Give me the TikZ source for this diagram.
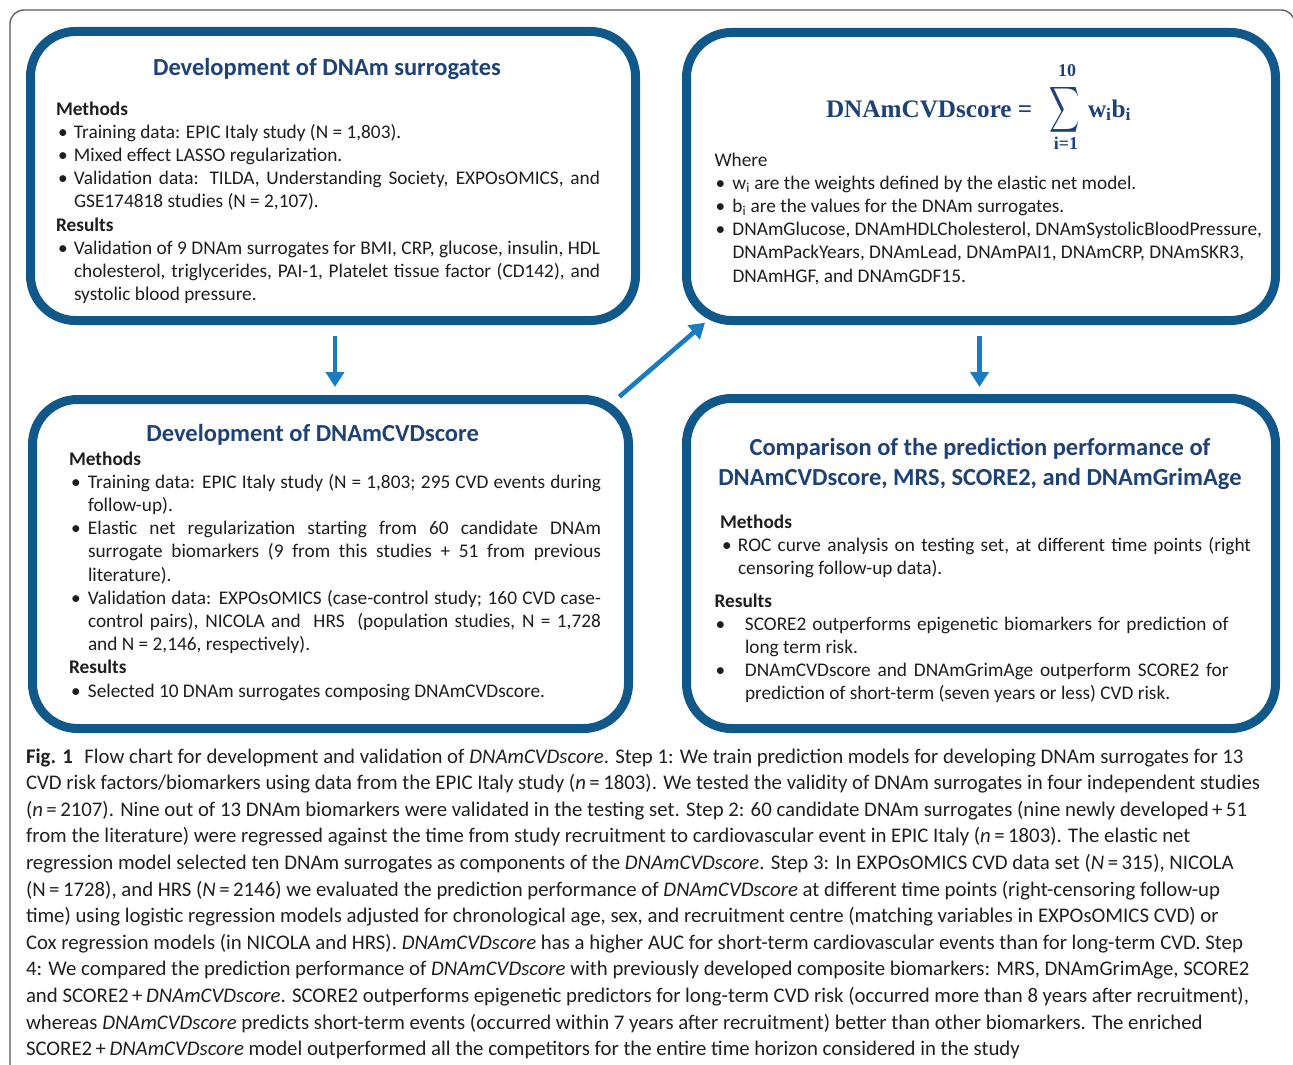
\documentclass[tikz,border=0pt]{standalone}
\usepackage{fontspec}
\setmainfont{Carlito}
\newfontfamily\eqfont{Liberation Serif}
\usepackage{graphicx}
\usetikzlibrary{arrows.meta}
\definecolor{boxblue}{RGB}{16,88,138}
\definecolor{arrblue}{RGB}{26,124,192}
\definecolor{navy}{RGB}{31,66,118}
\definecolor{bodytext}{RGB}{30,30,30}
\definecolor{captext}{RGB}{35,31,32}
\definecolor{framegray}{RGB}{90,90,90}
\newcommand{\bitem}[2]{\par\hangindent=#1\relax\hangafter=1\relax\noindent\makebox[#1][l]{\hspace{#2}\textbullet}\ignorespaces}
\newcommand{\hdr}[1]{\par\noindent\textbf{#1}}
\tolerance=9999
\hbadness=10000
\tikzset{
  panel/.style={draw=boxblue, line width=9pt, rounded corners=45pt, inner sep=0pt, outer sep=0pt},
  body/.style={anchor=base west, inner sep=0pt, outer sep=0pt, text width=#1, align=justify, text=bodytext,
    font=\fontsize{19.3}{23.2}\selectfont},
  ttl/.style={anchor=base, inner sep=0pt, outer sep=0pt, text=navy, font=\fontsize{24.5}{30}\selectfont\bfseries},
  eq/.style={inner sep=0pt, outer sep=0pt, text=navy},
  arr/.style={draw=arrblue, line width=4.6pt, -{Triangle[width=18pt,length=15pt]}},
  captxt/.style={anchor=base west, inner sep=0pt, outer sep=0pt, text=captext, font=\fontsize{20.8}{26}\selectfont},
}
\begin{document}
\begin{tikzpicture}[x=1pt,y=-1pt]
\useasboundingbox (0,0) rectangle (1293,1065);
\fill[white] (0,0) rectangle (1293,1065);
% outer frame
\draw[framegray, line width=1.3pt, rounded corners=14pt] (10,1070) -- (10,10) -- (1295,10) -- (1295,1070);

% panels
\node[panel, minimum width=605pt, minimum height=289pt] (b1) at (333,176) {};
\node[panel, minimum width=589pt, minimum height=288pt] (b2) at (981,176.5) {};
\node[panel, minimum width=596pt, minimum height=329pt] (b3) at (330.5,564) {};
\node[panel, minimum width=589pt, minimum height=330pt] (b4) at (981,563.5) {};

% box 1
\node[ttl] (t1) at (327,75) {Development of DNAm surrogates};
\node[body=544pt] (m1) at (56,115) {%
\noindent\textbf{Methods}
\bitem{18pt}{2pt}Training data: EPIC Italy study (N = 1,803).
\bitem{18pt}{2pt}Mixed effect LASSO regularization.
\bitem{18pt}{2pt}Validation data: TILDA, Understanding Society, EXPOsOMICS, and\linebreak GSE174818 studies (N = 2,107).
\hdr{Results}
\bitem{18pt}{2pt}Validation of 9 DNAm surrogates for BMI, CRP, glucose, insulin, HDL\linebreak cholesterol, triglycerides, PAI-1, Platelet tissue factor (CD142), and\linebreak systolic blood pressure.\par};

% box 2 equation
\node[eq, anchor=base west, font=\fontsize{25.2}{30}\selectfont\eqfont\bfseries] (eqa) at (826,117) {DNAmCVDscore =};
\node[eq, anchor=center] (eqs) at (1065,109.5) {\scalebox{2.1}[3.2]{$\displaystyle\sum$}};
\node[eq, anchor=center, font=\fontsize{18}{20}\selectfont\eqfont\bfseries] (eqt) at (1067,71) {10};
\node[eq, anchor=center, font=\fontsize{18}{20}\selectfont\eqfont\bfseries] (eqb) at (1066,143) {i=1};
\node[eq, anchor=base west, font=\fontsize{25.2}{30}\selectfont\eqfont\bfseries] (eqw) at (1088,117) {w\textsubscript{i}b\textsubscript{i}};
\node[body=600pt] (m2) at (714.5,166) {%
\noindent Where
\bitem{18pt}{1pt}w\textsubscript{i} are the weights defined by the elastic net model.
\bitem{18pt}{1pt}b\textsubscript{i} are the values for the DNAm surrogates.
\bitem{18pt}{1pt}DNAmGlucose, DNAmHDLCholesterol, DNAmSystolicBloodPressure,\newline DNAmPackYears, DNAmLead, DNAmPAI1, DNAmCRP, DNAmSKR3,\newline DNAmHGF, and DNAmGDF15.\par};

% box 3
\node[ttl] (t3) at (312.7,441) {Development of DNAmCVDscore};
\node[body=532pt] (m3) at (69,465) {%
\noindent\textbf{Methods}
\bitem{19pt}{2pt}Training data: EPIC Italy study (N = 1,803; 295 CVD events during\linebreak follow-up).
\bitem{19pt}{2pt}Elastic net regularization starting from 60 candidate DNAm\linebreak surrogate biomarkers (9 from this studies + 51 from previous\linebreak literature).
\bitem{19pt}{2pt}Validation data: EXPOsOMICS (case-control study; 160 CVD case-\linebreak control pairs), NICOLA and\ \ HRS\ \ (population studies, N = 1,728\linebreak and N = 2,146, respectively).
\hdr{Results}
\bitem{19pt}{2pt}Selected 10 DNAm surrogates composing DNAmCVDscore.\par};

% box 4
\node[ttl] (t4a) at (980,455) {Comparison of the prediction performance of};
\node[ttl] (t4b) at (980,485) {DNAmCVDscore, MRS, SCORE2, and DNAmGrimAge};
\node[body=531pt] (m4) at (720,528) {%
\noindent\textbf{Methods}
\bitem{18pt}{2pt}ROC curve analysis on testing set, at different time points (right\linebreak censoring follow-up data).\par};
\node[body=514pt] (r4) at (714.5,607) {%
\noindent\textbf{Results}
\bitem{30.5pt}{1pt}SCORE2 outperforms epigenetic biomarkers for prediction of\linebreak long term risk.
\bitem{30.5pt}{1pt}DNAmCVDscore and DNAmGrimAge outperform SCORE2 for\linebreak prediction of short-term (seven years or less) CVD risk.\par};

% arrows
\draw[arr] ([xshift=2pt,yshift=-15.5pt]b1.south) -- ([xshift=4.5pt,yshift=12.5pt]b3.north);
\draw[arr] ([xshift=-1.5pt,yshift=-15.5pt]b2.south) -- ([xshift=-1.5pt,yshift=11.5pt]b4.north);
\draw[arr] ([xshift=-9.2pt,yshift=2.8pt]b3.north east) -- ([xshift=18.5pt,yshift=-2.2pt]b2.south west);

% caption
\node[captxt] (c1) at (26,763) {\textbf{Fig. 1}\hspace{0.55em}Flow chart for development and validation of \textit{DNAmCVDscore}. Step 1: We train prediction models for developing DNAm surrogates for 13};
\node[captxt] (c2) at (26,789.6) {CVD risk factors/biomarkers using data from the EPIC Italy study (\textit{n}\,=\,1803). We tested the validity of DNAm surrogates in four independent studies};
\node[captxt] (c3) at (26,816.2) {(\textit{n}\,=\,2107). Nine out of 13 DNAm biomarkers were validated in the testing set. Step 2: 60 candidate DNAm surrogates (nine newly developed\,+\,51};
\node[captxt] (c4) at (26,842.8) {from the literature) were regressed against the time from study recruitment to cardiovascular event in EPIC Italy (\textit{n}\,=\,1803). The elastic net};
\node[captxt] (c5) at (26,869.4) {regression model selected ten DNAm surrogates as components of the \textit{DNAmCVDscore}. Step 3: In EXPOsOMICS CVD data set (\textit{N}\,=\,315), NICOLA};
\node[captxt] (c6) at (26,896) {(N\,=\,1728), and HRS (\textit{N}\,=\,2146) we evaluated the prediction performance of \textit{DNAmCVDscore} at different time points (right-censoring follow-up};
\node[captxt] (c7) at (26,922.6) {time) using logistic regression models adjusted for chronological age, sex, and recruitment centre (matching variables in EXPOsOMICS CVD) or};
\node[captxt] (c8) at (26,949.2) {Cox regression models (in NICOLA and HRS). \textit{DNAmCVDscore} has a higher AUC for short-term cardiovascular events than for long-term CVD. Step};
\node[captxt] (c9) at (26,975.8) {4: We compared the prediction performance of \textit{DNAmCVDscore} with previously developed composite biomarkers: MRS, DNAmGrimAge, SCORE2};
\node[captxt] (c10) at (26,1002.4) {and SCORE2\,+\,\textit{DNAmCVDscore}. SCORE2 outperforms epigenetic predictors for long-term CVD risk (occurred more than 8 years after recruitment),};
\node[captxt] (c11) at (26,1029) {whereas \textit{DNAmCVDscore} predicts short-term events (occurred within 7 years after recruitment) better than other biomarkers. The enriched};
\node[captxt] (c12) at (26,1055.6) {SCORE2\,+\,\textit{DNAmCVDscore} model outperformed all the competitors for the entire time horizon considered in the study};
\end{tikzpicture}
\end{document}
